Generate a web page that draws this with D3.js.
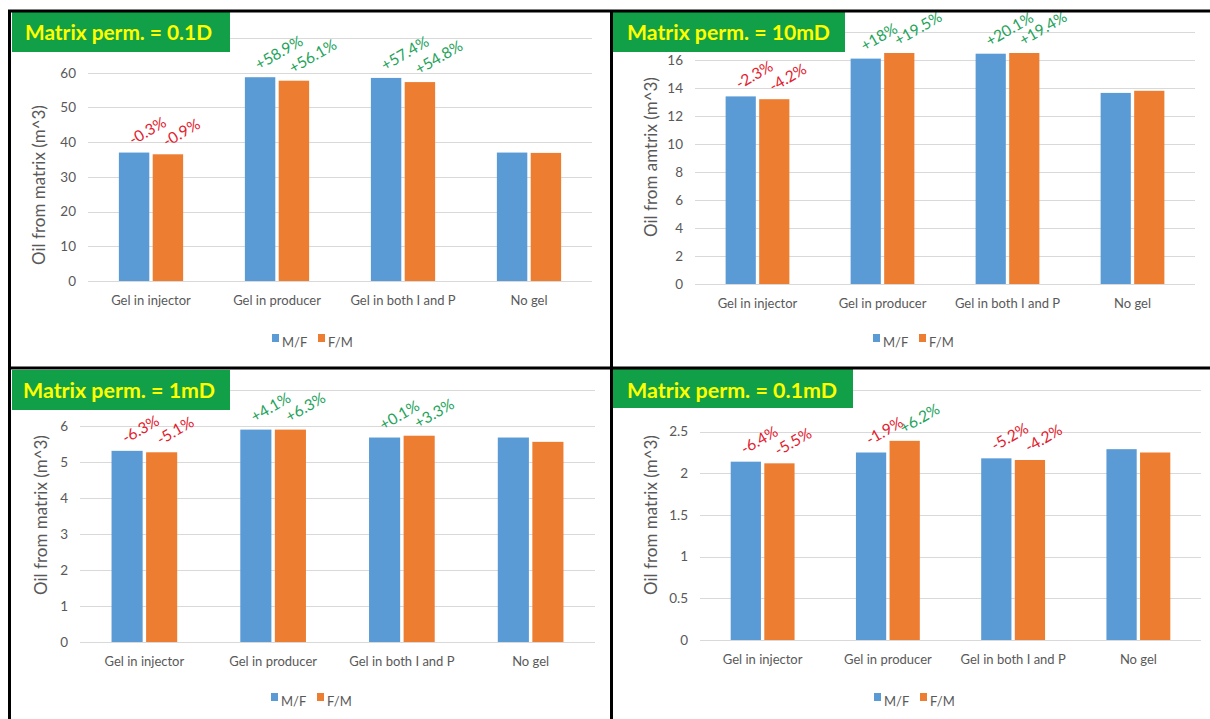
<!DOCTYPE html>
<html><head><meta charset="utf-8">
<script src="https://cdn.jsdelivr.net/npm/d3@7"></script>
<style>html,body{margin:0;padding:0;background:#fff;}svg{display:block;}</style>
</head><body>
<svg id="c" width="1210" height="719"></svg>
<script>
// ---------- data ----------
const categories = ["Gel in injector", "Gel in producer", "Gel in both I and P", "No gel"];
const seriesNames = ["M/F", "F/M"];
const titles = ["Matrix perm. = 0.1D", "Matrix perm. = 10mD", "Matrix perm. = 1mD", "Matrix perm. = 0.1mD"];
const yTitles = ["Oil from matrix (m^3)", "Oil from amtrix (m^3)", "Oil from matrix (m^3)", "Oil from matrix (m^3)"];

const mf01D  = [37.0, 58.7, 58.5, 37.0];
const fm01D  = [36.5, 57.7, 57.3, 36.9];
const mf10mD = [13.4, 16.1, 16.45, 13.65];
const fm10mD = [13.2, 16.5, 16.5, 13.8];
const mf1mD  = [5.31, 5.90, 5.68, 5.68];
const fm1mD  = [5.27, 5.90, 5.73, 5.56];
const mf01mD = [2.14, 2.25, 2.18, 2.29];
const fm01mD = [2.12, 2.39, 2.16, 2.25];

const annMf01D  = ["-0.3%", "+58.9%", "+57.4%", null];
const annFm01D  = ["-0.9%", "+56.1%", "+54.8%", null];
const annMf10mD = ["-2.3%", "+18%", "+20.1%", null];
const annFm10mD = ["-4.2%", "+19.5%", "+19.4%", null];
const annMf1mD  = ["-6.3%", "+4.1%", "+0.1%", null];
const annFm1mD  = ["-5.1%", "+6.3%", "+3.3%", null];
const annMf01mD = ["-6.4%", "-1.9%", "-5.2%", null];
const annFm01mD = ["-5.5%", "+6.2%", "-4.2%", null];

// axis maxima (top gridline sits under the title box, label hidden)
const ticks01D  = [0, 10, 20, 30, 40, 50, 60, 70];
const ticks10mD = [0, 2, 4, 6, 8, 10, 12, 14, 16, 18];
const ticks1mD  = [0, 1, 2, 3, 4, 5, 6, 7];
const ticks01mD = [0, 0.5, 1, 1.5, 2, 2.5, 3];

// ---------- layout ----------
const panels = [
  {mf: mf01D, fm: fm01D, am: annMf01D, af: annFm01D, ticks: ticks01D, title: titles[0], yTitle: yTitles[0],
   x0: 88, x1: 592, yZero: 281, yTop: 38, titleBox: [12, 12, 218, 40], titleX: 25, titleY: 40, titleW: 187,
   yTitleX: 38, yTitleY: 185, legY: 343, legX: 272},
  {mf: mf10mD, fm: fm10mD, am: annMf10mD, af: annFm10mD, ticks: ticks10mD, title: titles[1], yTitle: yTitles[1],
   x0: 695, x1: 1195, yZero: 284, yTop: 32, titleBox: [613, 12, 232, 40], titleX: 627, titleY: 40, titleW: 203,
   yTitleX: 650, yTitleY: 157, legY: 343, legX: 873},
  {mf: mf1mD, fm: fm1mD, am: annMf1mD, af: annFm1mD, ticks: ticks1mD, title: titles[2], yTitle: yTitles[2],
   x0: 80, x1: 595, yZero: 642, yTop: 390, titleBox: [12, 370, 218, 40], titleX: 23, titleY: 398, titleW: 192,
   yTitleX: 40, yTitleY: 515, legY: 702, legX: 271},
  {mf: mf01mD, fm: fm01mD, am: annMf01mD, af: annFm01mD, ticks: ticks01mD, title: titles[3], yTitle: yTitles[3],
   x0: 700, x1: 1201, yZero: 640, yTop: 390, titleBox: [613, 369, 240, 39], titleX: 627, titleY: 398, titleW: 210,
   yTitleX: 650, yTitleY: 515, legY: 702, legX: 874}
];

const colors = {"M/F": "#5b9bd5", "F/M": "#ed7d31"};
const gray = "#595959";
const font = "Lato, 'Open Sans', sans-serif";

const svg = d3.select("#c");

panels.forEach(p => {
  const g = svg.append("g");
  const x = d3.scaleBand().domain(categories).range([p.x0, p.x1]).paddingInner(0).paddingOuter(0);
  const xs = d3.scaleBand().domain(seriesNames).range([x.bandwidth() * 0.245, x.bandwidth() * 0.755]).paddingInner(0.1);
  const yMax = d3.max(p.ticks);
  const y = d3.scaleLinear().domain([0, yMax]).range([p.yZero, p.yTop]);

  // gridlines
  g.selectAll("line.grid").data(p.ticks).join("line")
    .attr("x1", p.x0).attr("x2", p.x1)
    .attr("y1", d => Math.round(y(d)) + 0.5).attr("y2", d => Math.round(y(d)) + 0.5)
    .attr("stroke", "#d9d9d9").attr("stroke-width", 1);

  // y axis (top label is covered by the title box in the reference)
  const ya = g.append("g").attr("transform", `translate(${p.x0},0)`)
    .call(d3.axisLeft(y).tickValues(p.ticks.filter(t => t < yMax)).tickSize(0).tickPadding(12).tickFormat(d3.format("")));
  ya.select(".domain").remove();
  ya.selectAll("text").attr("fill", gray).style("font-family", font).style("font-size", "13.5px");

  // x axis
  const xa = g.append("g").attr("transform", `translate(0,${p.yZero})`)
    .call(d3.axisBottom(x).tickSize(0).tickPadding(15));
  xa.select(".domain").remove();
  xa.selectAll("text").attr("fill", gray).style("font-family", font).style("font-size", "13px");

  // bars
  const rows = categories.map((c, i) => ({c, vals: [
    {s: "M/F", v: p.mf[i], a: p.am[i]}, {s: "F/M", v: p.fm[i], a: p.af[i]}]}));
  const grp = g.selectAll("g.cat").data(rows).join("g").attr("transform", d => `translate(${x(d.c)},0)`);
  grp.selectAll("rect").data(d => d.vals).join("rect")
    .attr("x", d => xs(d.s)).attr("width", xs.bandwidth())
    .attr("y", d => y(d.v)).attr("height", d => y(0) - y(d.v))
    .attr("fill", d => colors[d.s]);
  grp.selectAll("text.ann").data(d => d.vals.filter(v => v.a)).join("text")
    .attr("class", "ann")
    .attr("transform", d => `translate(${xs(d.s) + xs.bandwidth() / 2 - 1},${y(d.v) - 7}) rotate(-30)`)
    .attr("fill", d => d.a.startsWith("-") ? "#e3202d" : "#23a35a")
    .style("font-family", font).style("font-size", "15.5px")
    .text(d => d.a);

  // y title
  g.append("text").attr("transform", `translate(${p.yTitleX},${p.yTitleY}) rotate(-90)`)
    .attr("text-anchor", "middle").attr("dominant-baseline", "central")
    .attr("fill", gray).style("font-family", font).style("font-size", "17px").text(p.yTitle);

  // legend
  const lg = g.append("g").attr("transform", `translate(${p.legX},${p.legY})`);
  const items = lg.selectAll("g").data(seriesNames).join("g").attr("transform", (d, i) => `translate(${i * 46},0)`);
  items.append("rect").attr("x", 0).attr("y", -9).attr("width", 7).attr("height", 8).attr("fill", d => colors[d]);
  items.append("text").attr("x", 10).attr("y", 4).attr("fill", gray)
    .style("font-family", font).style("font-size", "13px").text(d => d);

  // title box
  const [bx, by, bw, bh] = p.titleBox;
  g.append("rect").attr("x", bx).attr("y", by).attr("width", bw).attr("height", bh).attr("fill", "#11a047");
  g.append("text").attr("x", p.titleX).attr("y", p.titleY).attr("fill", "#ffff00")
    .attr("textLength", p.titleW).attr("lengthAdjust", "spacingAndGlyphs")
    .style("font-family", font).style("font-weight", "bold").style("font-size", "20px").text(p.title);
});

// frame lines
const frame = [[8, 11, 1212, 11], [9.5, 10, 9.5, 719], [8, 368, 1212, 368], [611.5, 10, 611.5, 719]];
svg.selectAll("line.frame").data(frame).join("line").attr("class", "frame")
  .attr("x1", d => d[0]).attr("y1", d => d[1]).attr("x2", d => d[2]).attr("y2", d => d[3])
  .attr("stroke", "#000").attr("stroke-width", 3);
</script>
</body></html>
